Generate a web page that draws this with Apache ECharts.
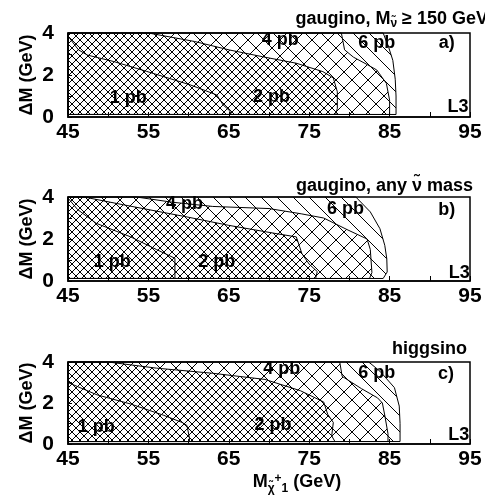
<!DOCTYPE html>
<html>
<head>
<meta charset="utf-8">
<script src="https://cdn.jsdelivr.net/npm/echarts@6/dist/echarts.min.js"></script>
<style>
  html, body { margin: 0; padding: 0; background: #fff; }
  #chart { width: 485px; height: 495px; }
</style>
</head>
<body>
<div id="chart"></div>
<script>
// contour lines [chargino mass (GeV), ΔM (GeV)], traced from the top / left edge down to the ΔM floor
const FLOOR = 0.12;

// a) gaugino, sneutrino mass >= 150 GeV
const a6pb = [[84.2, 4], [84.9, 3.3], [85.4, 2.7], [85.7, 1.8], [85.8, 1.0], [85.8, 0.12]];
const a4pb = [[79.0, 4], [79.4, 3.2], [80.5, 2.85], [82.2, 2.5], [83.4, 2.24], [84.6, 1.6], [85.0, 0.8], [85.0, 0.12]];
const a2pb = [[55.0, 4], [60.7, 3.6], [65.1, 3.19], [69.2, 2.87], [73.4, 2.56], [76.7, 2.16], [78.0, 1.86], [78.5, 1.2], [78.5, 0.41], [78.3, 0.12]];
const a1pb = [[45, 3.85], [46.3, 3.2], [47.4, 2.95], [50.7, 2.64], [54.8, 2.17], [60.2, 1.53], [63.5, 1.05], [64.3, 0.57], [65.1, 0.3], [65.3, 0.12]];

// b) gaugino, any sneutrino mass
const b6pb = [[80.8, 4], [82.6, 3.29], [83.8, 2.49], [84.4, 1.7], [84.65, 1.06], [84.7, 0.43], [84.2, 0.12]];
const b4pb = [[53.5, 4], [58, 3.75], [63, 3.55], [70, 3.45], [74, 3.2], [76.8, 3.0], [79.7, 2.45], [82.2, 2.0], [82.6, 1.5], [82.8, 0.4], [82.5, 0.12]];
const b2pb = [[47, 4], [52, 3.62], [59.8, 3.05], [65, 2.65], [71, 2.25], [73.4, 2.1], [74.1, 1.3], [75, 0.8], [76, 0.45], [75.8, 0.12]];
const b1pb = [[45, 3.95], [46.2, 3.4], [48.5, 2.75], [52.8, 2.1], [56, 1.5], [58.3, 1.08], [58.3, 0.12]];

// c) higgsino
const c6pb = [[82.4, 4], [83.8, 3.55], [85.6, 2.75], [86.2, 1.85], [86.3, 1.0], [86.3, 0.12]];
const c4pb = [[78.8, 4], [79.1, 3.3], [81.5, 2.7], [83.5, 2.25], [84.1, 2.0], [84.4, 1.4], [84.8, 0.5], [84.8, 0.12]];
const c2pb = [[50, 4], [56, 3.7], [63, 3.45], [69.5, 3.15], [73.9, 2.6], [76.8, 2.05], [77.3, 1.45], [78, 1.05], [77.8, 0.4], [78.2, 0.12]];
const c1pb = [[45, 3.0], [46.5, 2.75], [48.6, 2.4], [52.8, 1.95], [56.9, 1.4], [59.2, 1.05], [59.8, 0.9], [60.1, 0.3], [60.1, 0.12]];

// in-plot annotations [text, mass, ΔM]
const aLabels = [['4 pb', 71.4, 3.67], ['6 pb', 83.4, 3.51], ['1 pb', 52.5, 0.89], ['2 pb', 70.3, 0.97], ['a)', 92.1, 3.51], ['L3', 93.5, 0.49]];
const bLabels = [['4 pb', 59.5, 3.66], ['6 pb', 79.5, 3.43], ['1 pb', 50.5, 0.92], ['2 pb', 63.5, 0.92], ['b)', 92.1, 3.38], ['L3', 93.65, 0.4]];
const cLabels = [['4 pb', 71.6, 3.65], ['6 pb', 83.4, 3.45], ['1 pb', 48.5, 0.84], ['2 pb', 70.5, 0.93], ['c)', 92, 3.4], ['L3', 93.6, 0.44]];

const xMin = 45, xMax = 95, xStep = 10;
const yMin = 0, yMax = 4, yStep = 2;

const FONT = '"Liberation Sans", Arial, sans-serif';

// hatch tiles: "\" for 6 pb, "/" for 4 pb, half-shifted cross for 2 pb
function hatch(period, dirs) {
  const c = document.createElement('canvas');
  c.width = c.height = period;
  const ctx = c.getContext('2d');
  ctx.strokeStyle = '#000';
  ctx.lineWidth = 1;
  dirs.forEach(([dir, off]) => {
    for (let k = -2; k <= 2; k++) {
      const o = off + k * period;
      ctx.beginPath();
      if (dir === '\\') {
        ctx.moveTo(o - period, -period);
        ctx.lineTo(o + 2 * period, 2 * period);
      } else {
        ctx.moveTo(o + period, -period);
        ctx.lineTo(o - 2 * period, 2 * period);
      }
      ctx.stroke();
    }
  });
  return { image: c, repeat: 'repeat' };
}

const P = 16;
const fills = [
  hatch(P, [['\\', 0]]),
  hatch(P, [['/', 0]]),
  hatch(P, [['\\', P / 2], ['/', P / 2]]),
  'rgba(0,0,0,0)'
];

function contourSeries(idx, layers) {
  return {
    type: 'custom',
    xAxisIndex: idx,
    yAxisIndex: idx,
    silent: true,
    data: layers.map(l => [l[0][0], l[0][1]]),
    encode: { x: 0, y: 1 },
    renderItem: function (params, api) {
      const line = layers[params.dataIndex];
      const poly = [[xMin, FLOOR]];
      if (line[0][0] > xMin) poly.push([xMin, yMax]);
      line.forEach(p => poly.push(p));
      return {
        type: 'polygon',
        shape: { points: poly.map(p => api.coord(p)) },
        style: { fill: fills[params.dataIndex], stroke: '#000', lineWidth: 1 }
      };
    }
  };
}

function labelSeries(idx, labels) {
  return {
    type: 'scatter',
    xAxisIndex: idx,
    yAxisIndex: idx,
    silent: true,
    symbolSize: 0,
    data: labels.map(l => [l[1], l[2], l[0]]),
    label: {
      show: true,
      position: 'inside',
      formatter: p => p.value[2],
      color: '#000',
      opacity: 1,
      fontFamily: FONT,
      fontWeight: 'bold',
      fontSize: 18
    },
    z: 5
  };
}

const grids = [
  { left: 68, width: 402, top: 33, height: 84 },
  { left: 68, width: 402, top: 197, height: 84 },
  { left: 68, width: 402, top: 362, height: 82 }
].map(g => Object.assign(g, { show: true, borderColor: '#000', borderWidth: 1.5, backgroundColor: 'transparent', outerBoundsMode: 'none' }));

const black = { color: '#000' };

function xAxis(idx) {
  const ax = {
    gridIndex: idx,
    type: 'value',
    min: xMin, max: xMax, interval: xStep,
    axisLine: { show: true, lineStyle: { color: '#000', width: 1.5 } },
    axisTick: { show: true, inside: true, length: 5, lineStyle: black },
    minorTick: { show: true, splitNumber: 2, length: 5, lineStyle: black },
    splitLine: { show: false },
    axisLabel: { color: '#000', fontFamily: FONT, fontWeight: 'bold', fontSize: 21, margin: 5 }
  };
  if (idx === 2) {
    ax.name = '{t|M}{s|χ̃}{u|+}{s|1}{t| (GeV)}';
    ax.nameLocation = 'middle';
    ax.nameGap = 22;
    ax.nameTextStyle = {
      padding: [0, 0, 0, 56],
      rich: {
        t: { fontFamily: FONT, fontWeight: 'bold', fontSize: 18, color: '#000', lineHeight: 22, verticalAlign: 'top' },
        s: { fontFamily: FONT, fontWeight: 'bold', fontSize: 12, color: '#000', lineHeight: 12, verticalAlign: 'bottom', padding: [12, 0, 0, 0] },
        u: { fontFamily: FONT, fontWeight: 'bold', fontSize: 12, color: '#000', lineHeight: 12, verticalAlign: 'top' }
      }
    };
  }
  return ax;
}

function yAxis(idx) {
  return {
    gridIndex: idx,
    type: 'value',
    min: yMin, max: yMax, interval: yStep,
    axisLine: { show: true, lineStyle: { color: '#000', width: 1.5 } },
    axisTick: { show: true, inside: true, length: 4, lineStyle: black },
    minorTick: { show: true, splitNumber: 2, length: 4, lineStyle: black },
    splitLine: { show: false },
    axisLabel: { color: '#000', fontFamily: FONT, fontWeight: 'bold', fontSize: 21, margin: 14 },
    name: 'ΔM (GeV)',
    nameLocation: 'middle',
    nameRotate: 90,
    nameGap: 32,
    nameMoveOverlap: false,
    nameTextStyle: { color: '#000', fontFamily: FONT, fontWeight: 'bold', fontSize: 18 }
  };
}

const titleRich = {
  t: { fontFamily: FONT, fontWeight: 'bold', fontSize: 18, color: '#000', lineHeight: 20, verticalAlign: 'top' },
  s: { fontFamily: FONT, fontWeight: 'bold', fontSize: 12, color: '#000', lineHeight: 12, verticalAlign: 'bottom', padding: [10, 0, 0, 0] },
  n: { fontFamily: FONT, fontWeight: 'bold', fontSize: 18, color: '#000', lineHeight: 20, verticalAlign: 'top' }
};

const chart = echarts.init(document.getElementById('chart'));
chart.setOption({
  animation: false,
  title: [
    { text: '{t|gaugino, M}{s|ν̃}{t| ≥ 150 GeV}', right: -3, top: 10, padding: 0, textStyle: { rich: titleRich } },
    { text: '{t|gaugino, any }{n|ν̃}{t| mass}', right: 12, top: 177, padding: 0, textStyle: { rich: titleRich } },
    { text: '{t|higgsino}', right: 18, top: 340, padding: 0, textStyle: { rich: titleRich } }
  ],
  grid: grids,
  xAxis: [xAxis(0), xAxis(1), xAxis(2)],
  yAxis: [yAxis(0), yAxis(1), yAxis(2)],
  series: [
    contourSeries(0, [a6pb, a4pb, a2pb, a1pb]),
    contourSeries(1, [b6pb, b4pb, b2pb, b1pb]),
    contourSeries(2, [c6pb, c4pb, c2pb, c1pb]),
    labelSeries(0, aLabels),
    labelSeries(1, bLabels),
    labelSeries(2, cLabels)
  ]
});
</script>
</body>
</html>
